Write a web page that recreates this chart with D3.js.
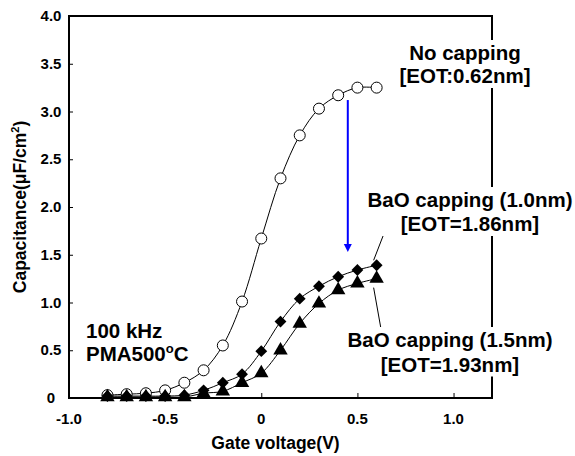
<!DOCTYPE html>
<html>
<head>
<meta charset="utf-8">
<script src="https://cdn.jsdelivr.net/npm/d3@7"></script>
<style>
  body { margin: 0; background: #fff; }
  svg { display: block; font-family: "Liberation Sans", Arial, Helvetica, sans-serif; font-weight: bold; }
</style>
</head>
<body>
<div class="svg-container"></div>
<script>
    const chart_width = 575;
    const chart_height = 456;

    // gate voltage (V)
    const gate_voltage = [-0.8, -0.7, -0.6, -0.5, -0.4, -0.3, -0.2, -0.1, 0, 0.1, 0.2, 0.3, 0.4, 0.5, 0.6];
    // capacitance (uF/cm2)
    const no_capping = [0.03, 0.04, 0.05, 0.08, 0.16, 0.29, 0.55, 1.01, 1.67, 2.30, 2.75, 3.03, 3.17, 3.25, 3.25];
    const bao_10nm = [0.02, 0.02, 0.02, 0.02, 0.03, 0.08, 0.16, 0.25, 0.49, 0.80, 1.04, 1.17, 1.27, 1.34, 1.39];
    const bao_15nm = [0.01, 0.01, 0.01, 0.01, 0.01, 0.05, 0.07, 0.16, 0.26, 0.50, 0.78, 0.99, 1.13, 1.20, 1.25];

    const x_ticks = [-1.0, -0.5, 0, 0.5, 1.0];
    const y_ticks = [0, 0.5, 1.0, 1.5, 2.0, 2.5, 3.0, 3.5, 4.0];

    // blue arrow: voltage, start and end capacitance
    const arrow_v = 0.45;
    const arrow_c = [3.12, 1.53];

    const margin = {top: 16, right: 83, bottom: 58, left: 69};

    const svg = d3.select('.svg-container').append('svg')
        .attr('width', chart_width).attr('height', chart_height);

    const x = d3.scaleLinear().domain([-1.0, 1.2]).range([margin.left, chart_width - margin.right]);
    const y = d3.scaleLinear().domain([0, 4.0]).range([chart_height - margin.bottom, margin.top]);

    // frame
    svg.append('rect')
        .attr('x', x(-1.0)).attr('y', y(4.0))
        .attr('width', x(1.2) - x(-1.0)).attr('height', y(0) - y(4.0))
        .attr('fill', 'none').attr('stroke', '#000').attr('stroke-width', 2);

    // ticks (inside)
    const xAxis = svg.append('g')
        .attr('transform', 'translate(0,' + y(0) + ')')
        .call(d3.axisTop(x).tickValues(x_ticks).tickSize(5).tickFormat(''));
    xAxis.select('.domain').remove();
    xAxis.selectAll('line').attr('stroke-width', 1);

    const yAxis = svg.append('g')
        .attr('transform', 'translate(' + x(-1.0) + ',0)')
        .call(d3.axisRight(y).tickValues(y_ticks.filter(d => d > 0 && d < 4)).tickSize(4).tickFormat(''));
    yAxis.select('.domain').remove();
    yAxis.selectAll('line').attr('stroke-width', 1);

    // tick labels (plain hyphen for negatives)
    const fmt = d => d === 0 ? '0' : (d < 0 ? '-' : '') + Math.abs(d).toFixed(1);
    svg.append('g').selectAll('text').data(x_ticks).enter().append('text')
        .attr('x', d => x(d)).attr('y', 424)
        .attr('text-anchor', 'middle').attr('font-size', 15)
        .text(fmt);
    svg.append('g').selectAll('text').data(y_ticks).enter().append('text')
        .attr('x', 51).attr('y', d => y(d) + 5)
        .attr('text-anchor', 'middle').attr('font-size', 15)
        .text(fmt);

    // axis titles
    svg.append('text')
        .attr('x', (x(-1.0) + x(1.2)) / 2 - 5).attr('y', 449)
        .attr('text-anchor', 'middle').attr('font-size', 17.5)
        .text('Gate voltage(V)');
    const yt = svg.append('text')
        .attr('transform', 'translate(26,' + ((y(0) + y(4)) / 2) + ') rotate(-90)')
        .attr('text-anchor', 'middle').attr('font-size', 17.5);
    yt.append('tspan').text('Capacitance(\u03bcF/cm');
    yt.append('tspan').attr('font-size', 11).attr('dy', -7).text('2');
    yt.append('tspan').attr('dy', 7).text(')');

    // curves
    const line = d3.line().curve(d3.curveCatmullRom.alpha(0.5))
        .x(d => x(d[0])).y(d => y(d[1]));
    const series = [no_capping, bao_10nm, bao_15nm];
    series.forEach(vals => {
        svg.append('path')
            .datum(gate_voltage.map((v, i) => [v, vals[i]]))
            .attr('d', line)
            .attr('fill', 'none').attr('stroke', '#000').attr('stroke-width', 1);
    });

    // markers
    svg.append('g').selectAll('circle').data(gate_voltage).enter().append('circle')
        .attr('cx', d => x(d)).attr('cy', (d, i) => y(no_capping[i]))
        .attr('r', 5.5).attr('fill', '#fff').attr('stroke', '#000').attr('stroke-width', 1);

    const tri = d3.symbol().type(d3.symbolTriangle).size(90);
    svg.append('g').selectAll('path').data(gate_voltage).enter().append('path')
        .attr('transform', (d, i) => 'translate(' + x(d) + ',' + y(bao_15nm[i]) + ')')
        .attr('d', tri).attr('fill', '#000');

    const dia = d3.symbol().type(d3.symbolSquare).size(70);
    svg.append('g').selectAll('path').data(gate_voltage).enter().append('path')
        .attr('transform', (d, i) => 'translate(' + x(d) + ',' + y(bao_10nm[i]) + ') rotate(45)')
        .attr('d', dia).attr('fill', '#000');

    // blue arrow
    const ax = x(arrow_v), ay0 = y(arrow_c[0]), ay1 = y(arrow_c[1]);
    svg.append('line')
        .attr('x1', ax).attr('x2', ax).attr('y1', ay0).attr('y2', ay1 - 6)
        .attr('stroke', '#0000ff').attr('stroke-width', 2);
    svg.append('path')
        .attr('d', 'M' + (ax - 4) + ',' + (ay1 - 8) + 'L' + (ax + 4) + ',' + (ay1 - 8) + 'L' + ax + ',' + ay1 + 'Z')
        .attr('fill', '#0000ff');

    // leader lines
    const last = gate_voltage.length - 1;
    svg.append('line')
        .attr('x1', x(gate_voltage[last]) - 3).attr('y1', y(bao_10nm[last]) - 5)
        .attr('x2', 390).attr('y2', 218)
        .attr('stroke', '#000').attr('stroke-width', 1);
    svg.append('line')
        .attr('x1', x(gate_voltage[last]) - 3).attr('y1', y(bao_15nm[last]) + 9)
        .attr('x2', 381).attr('y2', 329)
        .attr('stroke', '#000').attr('stroke-width', 1);

    // annotations with white background
    function label(lines, cx, cy, size, lh) {
        const g = svg.append('g');
        const bg = g.append('rect').attr('fill', '#fff');
        const t = g.append('text').attr('text-anchor', 'middle').attr('font-size', size);
        lines.forEach((s, i) => {
            t.append('tspan').attr('x', cx).attr('y', cy + i * lh).text(s);
        });
        const b = t.node().getBBox();
        bg.attr('x', b.x - 2).attr('y', b.y - 1).attr('width', b.width + 4).attr('height', b.height + 2);
    }
    label(['No capping', '[EOT:0.62nm]'], 465, 60, 20.5, 23);
    label(['BaO capping (1.0nm)', '[EOT=1.86nm]'], 470, 207, 20.5, 24);
    label(['BaO capping (1.5nm)', '[EOT=1.93nm]'], 450, 347, 20.5, 24.5);

    const cond = svg.append('text').attr('font-size', 20.5);
    cond.append('tspan').attr('x', 86).attr('y', 338).text('100 kHz');
    const l2 = svg.append('text').attr('font-size', 20.5).attr('x', 86).attr('y', 361);
    l2.append('tspan').text('PMA500');
    l2.append('tspan').attr('font-size', 13).attr('dy', -8).text('o');
    l2.append('tspan').attr('dy', 8).text('C');
</script>
</body>
</html>
